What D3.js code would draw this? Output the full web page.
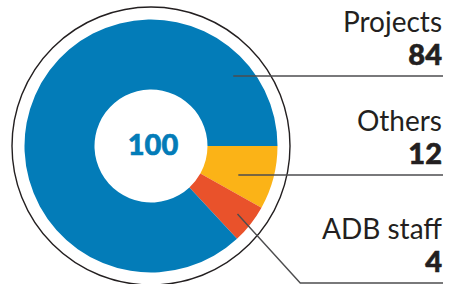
<!DOCTYPE html>
<html>
<head>
<meta charset="utf-8">
<script src="https://cdn.jsdelivr.net/npm/d3@7"></script>
<style>
  html, body { margin: 0; padding: 0; background: #fff; }
  svg { display: block; }
</style>
</head>
<body>
<script>
// data
var categories = ["Others", "ADB staff", "Projects"];
var values = [12, 4, 84];
// slice sizes as drawn in the picture (the artwork is not to scale with the labels)
var drawnShare = [8.1, 5.0, 86.9];
var total = 100;
var colors = ["#fbb317", "#e9522b", "#037cb8"];

var W = 454, H = 284;
var cx = 151, cy = 146;
var rOuter = 126.5, rInner = 56.5, rRing = 139;

var svg = d3.select("body").append("svg")
    .attr("width", W)
    .attr("height", H);

// outer ring
svg.append("circle")
    .attr("cx", cx)
    .attr("cy", cy)
    .attr("r", rRing)
    .attr("fill", "none")
    .attr("stroke", "#231f20")
    .attr("stroke-width", 1.4);

var pie = d3.pie()
    .sort(null)
    .value(function (d, i) { return drawnShare[i]; })
    .startAngle(Math.PI / 2)
    .endAngle(Math.PI / 2 + 2 * Math.PI);

var arcs = pie(values);
var arc = d3.arc().innerRadius(rInner).outerRadius(rOuter);

var g = svg.append("g").attr("transform", "translate(" + cx + "," + cy + ")");
g.selectAll("path.slice")
    .data(arcs)
    .enter()
    .append("path")
    .attr("class", "slice")
    .attr("d", arc)
    .attr("fill", function (d, i) { return colors[i]; });

// centre total
g.append("text")
    .attr("x", 2)
    .attr("y", -3)
    .attr("text-anchor", "middle")
    .attr("dominant-baseline", "central")
    .style("font-family", "Lato, 'Open Sans', sans-serif")
    .style("font-weight", "900")
    .style("font-size", "29px")
    .attr("fill", "#037cb8")
    .attr("stroke", "#037cb8")
    .attr("stroke-width", 0.6)
    .text(total);

// labels on the right, top to bottom: Projects, Others, ADB staff
var order = [2, 0, 1];
var lineY = [76, 175, 283];
var textX = 442, lineEnd = 443;

order.forEach(function (idx, k) {
    var a = arcs[idx];
    var y = lineY[k];
    var ang = (a.startAngle + a.endAngle) / 2;
    var px, py, bend = null;
    if (k < 2) {
        // horizontal leader starting inside the slice
        var rr = k === 0 ? 108 : 92;
        var dy = y - cy;
        px = cx + Math.sqrt(rr * rr - dy * dy);
        py = y;
    } else {
        var rr2 = 110;
        px = cx + rr2 * Math.sin(ang);
        py = cy - rr2 * Math.cos(ang);
        // diagonal down to the bottom rule
        var slope = (y - py) / 1.1;
        bend = [px + slope, y];
    }
    var pts = bend ? [[px, py], bend, [lineEnd, y]] : [[px, py], [lineEnd, y]];
    svg.append("path")
        .attr("d", d3.line()(pts))
        .attr("fill", "none")
        .attr("stroke", "#4d4d4f")
        .attr("stroke-width", 1.4);

    svg.append("text")
        .attr("x", textX)
        .attr("y", y - 44)
        .attr("text-anchor", "end")
        .style("font-family", "Lato, 'Open Sans', sans-serif")
        .style("font-size", "28px")
        .attr("fill", "#231f20")
        .text(categories[idx]);

    svg.append("text")
        .attr("x", textX)
        .attr("y", y - 11)
        .attr("text-anchor", "end")
        .style("font-family", "Lato, 'Open Sans', sans-serif")
        .style("font-weight", "900")
        .style("font-size", "29px")
        .attr("fill", "#231f20")
        .attr("stroke", "#231f20")
        .attr("stroke-width", 0.6)
        .text(values[idx]);
});
</script>
</body>
</html>
